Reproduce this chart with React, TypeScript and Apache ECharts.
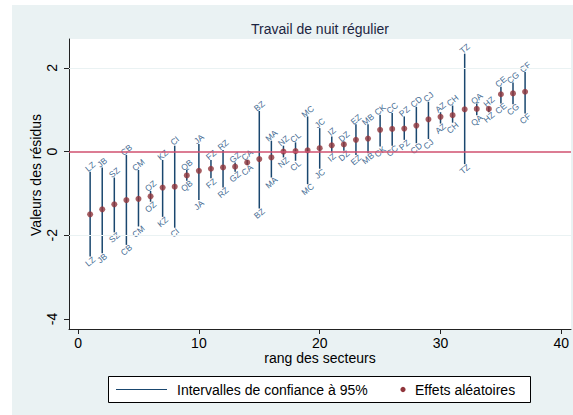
import React, { useEffect, useRef } from "react";
import * as echarts from "echarts";

// Sector rank (x), random effect (dot) and 95% interval bounds per NAF sector
const ranks = [1, 2, 3, 4, 5, 6, 7, 8, 9, 10, 11, 12, 13, 14, 15, 16, 17, 18, 19, 20, 21, 22, 23, 24, 25, 26, 27, 28, 29, 30, 31, 32, 33, 34, 35, 36, 37];
const sectors = ["LZ", "JB", "SZ", "CB", "CM", "OZ", "KZ", "CI", "QB", "JA", "FZ", "RZ", "GZ", "CA", "BZ", "MA", "NZ", "CL", "MC", "JC", "IZ", "DZ", "EZ", "MB", "CK", "CC", "PZ", "CD", "CJ", "AZ", "CH", "TZ", "QA", "HZ", "CE", "CG", "CF"];
const effects = [-1.5, -1.38, -1.26, -1.16, -1.13, -1.07, -0.86, -0.84, -0.57, -0.46, -0.41, -0.38, -0.36, -0.26, -0.18, -0.14, 0.0, 0.01, 0.03, 0.08, 0.15, 0.17, 0.28, 0.31, 0.52, 0.54, 0.55, 0.62, 0.77, 0.83, 0.87, 1.01, 1.02, 1.02, 1.37, 1.39, 1.43];
const lowerBounds = [-2.51, -2.43, -1.93, -2.23, -1.79, -1.2, -1.56, -1.82, -0.7, -1.16, -0.64, -0.86, -0.48, -0.32, -1.36, -0.62, -0.14, -0.22, -0.78, -0.41, -0.02, 0.02, -0.08, -0.04, 0.12, 0.14, 0.28, 0.2, 0.3, 0.67, 0.69, -0.3, 0.87, 0.94, 1.15, 1.13, 0.91];
const upperBounds = [-0.48, -0.38, -0.62, -0.08, -0.44, -0.94, -0.2, 0.14, -0.44, 0.18, -0.2, 0.04, -0.26, -0.2, 0.97, 0.26, 0.14, 0.22, 0.84, 0.56, 0.36, 0.24, 0.65, 0.65, 0.88, 0.92, 0.84, 1.07, 1.19, 0.94, 1.1, 2.34, 1.15, 1.07, 1.55, 1.65, 1.9];

const xTicks = [0, 10, 20, 30, 40];
const yTicks = [-4, -2, 0, 2];
const gridLevels = [2, -2];

const TITLE = "Travail de nuit régulier";
const X_NAME = "rang des secteurs";
const Y_NAME = "Valeurs des résidus";
const LEGEND_CI = "Intervalles de confiance à 95%";
const LEGEND_FX = "Effets aléatoires";

const FONT = "'Liberation Sans', Arial, Helvetica, sans-serif";
const NAVY = "#1a476f";
const MAROON = "#90353b";
const BG = "#eaf2f3";
const ZERO = "#d0506f";
const CODE_COLOR = "#436a92";
const LABEL_ANGLE = (40 * Math.PI) / 180;

export default function App() {
  const ref = useRef<HTMLDivElement>(null);

  useEffect(() => {
    if (!ref.current) return;
    const chart = echarts.init(ref.current, undefined, { renderer: "svg" });

    const intervals = ranks.map((r, i) => [r, lowerBounds[i], upperBounds[i]]);
    const dots = ranks.map((r, i) => [r, effects[i]]);

    // sector code written at an interval end, tilted upward to the right
    const codeText = (text: string, x: number, y: number) => ({
      type: "text",
      x,
      y,
      rotation: LABEL_ANGLE,
      style: {
        text,
        fill: CODE_COLOR,
        fontSize: 8.5,
        fontFamily: FONT,
        align: "center",
        verticalAlign: "middle",
      },
    });

    chart.setOption({
      animation: false,
      backgroundColor: "transparent",
      grid: {
        left: 69,
        right: 2,
        top: 39,
        bottom: 86,
        show: true,
        backgroundColor: "#ffffff",
        borderWidth: 0,
      },
      xAxis: {
        type: "value",
        min: -0.75,
        max: 40.8,
        splitLine: { show: false },
        axisLine: { show: true, onZero: false, lineStyle: { color: "#222", width: 1 } },
        axisTick: { show: true, length: 5, customValues: xTicks, lineStyle: { color: "#222" } },
        axisLabel: {
          customValues: xTicks,
          margin: 7,
          color: "#000",
          fontSize: 14,
          fontFamily: FONT,
        },
      },
      yAxis: {
        type: "value",
        min: -4.24,
        max: 2.69,
        splitLine: { show: false },
        axisLine: { show: true, onZero: false, lineStyle: { color: "#222", width: 1 } },
        axisTick: { show: true, length: 5, customValues: yTicks, lineStyle: { color: "#222" } },
        axisLabel: {
          customValues: yTicks,
          rotate: 90,
          margin: 10,
          color: "#000",
          fontSize: 14,
          fontFamily: FONT,
        },
      },
      graphic: [
        {
          type: "text",
          x: 320,
          y: 29,
          style: { text: TITLE, fill: "#1c2541", fontSize: 14, fontFamily: FONT, align: "center", verticalAlign: "middle" },
        },
        {
          type: "text",
          x: 320,
          y: 358,
          style: { text: X_NAME, fill: "#000", fontSize: 14, fontFamily: FONT, align: "center", verticalAlign: "middle" },
        },
        {
          type: "text",
          x: 36,
          y: 175,
          rotation: Math.PI / 2,
          style: { text: Y_NAME, fill: "#000", fontSize: 14, fontFamily: FONT, align: "center", verticalAlign: "middle" },
        },
        {
          type: "rect",
          shape: { x: 108.5, y: 376.5, width: 422, height: 26 },
          style: { fill: "#ffffff", stroke: "#000", lineWidth: 1 },
        },
        {
          type: "line",
          shape: { x1: 116, y1: 389.5, x2: 167, y2: 389.5 },
          style: { stroke: NAVY, lineWidth: 1.2 },
        },
        {
          type: "text",
          x: 177,
          y: 389.5,
          style: { text: LEGEND_CI, fill: "#000", fontSize: 14, fontFamily: FONT, align: "left", verticalAlign: "middle" },
        },
        {
          type: "circle",
          shape: { cx: 403, cy: 389.5, r: 2.6 },
          style: { fill: MAROON },
        },
        {
          type: "text",
          x: 415,
          y: 389.5,
          style: { text: LEGEND_FX, fill: "#000", fontSize: 14, fontFamily: FONT, align: "left", verticalAlign: "middle" },
        },
      ],
      series: [
        {
          // reference lines: light grid at ±2 and the zero line
          type: "line",
          data: [],
          z: 1,
          silent: true,
          markLine: {
            silent: true,
            symbol: "none",
            label: { show: false },
            data: [
              ...gridLevels.map((v) => ({ yAxis: v, lineStyle: { color: BG, width: 1.2, type: "solid" } })),
              { yAxis: 0, lineStyle: { color: ZERO, width: 1.6, type: "solid" } },
            ],
          },
        },
        {
          name: LEGEND_CI,
          type: "custom",
          z: 2,
          data: intervals,
          encode: { x: 0, y: [1, 2] },
          renderItem: (params: any, api: any) => {
            const x = api.value(0);
            const top = api.coord([x, api.value(2)]);
            const bot = api.coord([x, api.value(1)]);
            const code = sectors[params.dataIndex];
            return {
              type: "group",
              children: [
                {
                  type: "line",
                  shape: { x1: top[0], y1: top[1], x2: bot[0], y2: bot[1] },
                  style: { stroke: NAVY, lineWidth: 1.5 },
                },
                codeText(code, top[0], top[1] - 5),
                codeText(code, bot[0], bot[1] + 5),
              ],
            };
          },
        },
        {
          name: LEGEND_FX,
          type: "scatter",
          z: 3,
          data: dots,
          symbol: "circle",
          symbolSize: 6,
          itemStyle: { color: MAROON },
        },
      ],
    });

    return () => chart.dispose();
  }, []);

  return (
    <div style={{ position: "absolute", left: 0, top: 0, width: 573, height: 415, background: "#ffffff" }}>
      <div style={{ position: "absolute", left: 12, top: 5, width: 561, height: 410, background: BG }} />
      <div ref={ref} style={{ position: "absolute", left: 0, top: 0, width: 573, height: 415 }} />
    </div>
  );
}
